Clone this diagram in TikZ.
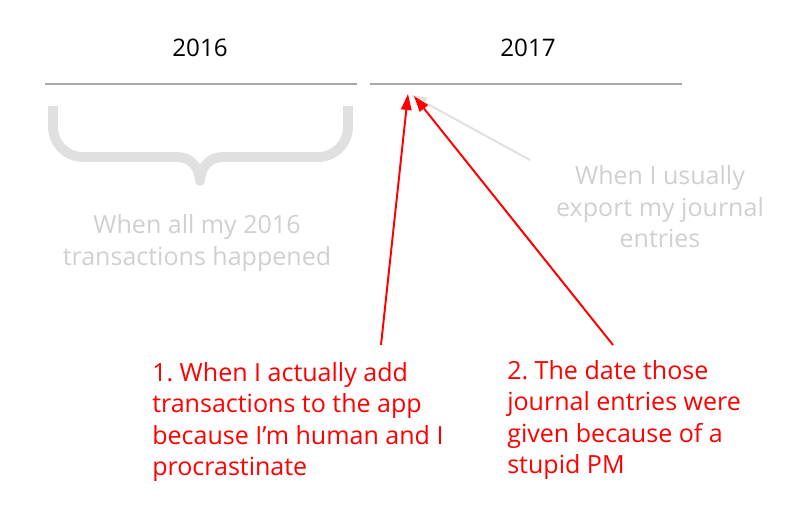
\documentclass[tikz,border=0pt]{standalone}
\usepackage{fontspec}
\setmainfont{Open Sans}
\frenchspacing
\usepackage{tikz}
\usetikzlibrary{positioning,arrows.meta,calc}

\definecolor{axisgray}{HTML}{A8A8A8}
\definecolor{bracegray}{HTML}{E0E0E0}
\definecolor{notegray}{HTML}{D0D0D0}
\definecolor{notered}{HTML}{FF0000}

\begin{document}
\begin{tikzpicture}[
    x=0.025cm, y=-0.025cm,
    every node/.style={inner sep=0pt, align=center, font=\fontsize{17.8}{22.4}\selectfont},
    year/.style={text=black, font=\fontsize{17.2}{22.4}\selectfont},
    greynote/.style={text=notegray},
    rednote/.style={text=notered, align=left, anchor=north west},
    axis/.style={draw=axisgray, line width=1.5pt},
    redarrow/.style={draw=notered, line width=1.4pt, -{Triangle[length=4mm, width=2.6mm]}},
    greyarrow/.style={draw=bracegray, line width=1.4pt, -{Triangle[length=4mm, width=2.6mm]}}
]
\useasboundingbox (0,0) rectangle (800,510);

% Years
\node[year] (y2016) at (200,48) {2016};
\node[year] (y2017) at (528,48) {2017};

% Timeline
\draw[axis] (45,84) -- (357,84);
\draw[axis] (370,84) -- (682,84);

% Brace under 2016
\draw[draw=bracegray, line width=7pt, line join=round]
    (53,106) -- (53,127) to[out=-90, in=180] (83,157) -- (178,157)
    to[out=0, in=90] (200,181) to[out=90, in=180] (222,157) -- (318,157)
    to[out=0, in=-90] (348,127) -- (348,106);

% Grey notes
\node[greynote] (whenall) at (197,243) {When all my 2016\\transactions happened};
\node[greynote] (export) at (660,207) {When I usually\\export my journal\\entries};

% Red notes
\node[rednote] (note1) at (152,362)
{1. When I actually add\\transactions to the app\\because I’m human and I\\procrastinate};
\node[rednote] (note2) at (507,360)
{2. The date those\\journal entries were\\given because of a\\stupid PM};

% Arrows
\coordinate (tip1) at (408,94);
\coordinate (tip2) at (414,96);
\coordinate (tip3) at (411,95);
\coordinate (from1) at (381,345);
\coordinate (from2) at (613,345);
\coordinate (from3) at (530,160);

\draw[greyarrow] (from3) -- (tip3);
\draw[redarrow] (from1) -- (tip1);
\draw[redarrow] (from2) -- (tip2);

\end{tikzpicture}
\end{document}
